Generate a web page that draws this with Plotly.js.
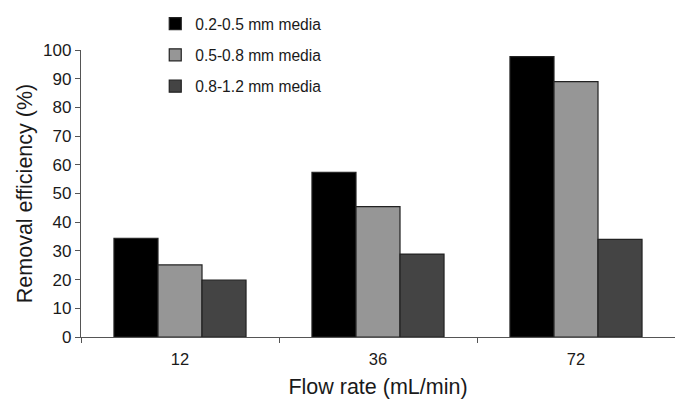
<!DOCTYPE html>
<html>
<head>
<meta charset="utf-8">
<script src="https://cdn.plot.ly/plotly-3.0.1.min.js"></script>
<style>html,body{margin:0;padding:0;background:#fff;}#chart{width:675px;height:399px;}</style>
</head>
<body>
<div id="chart"></div>
<script>
const flowRates = ['12', '36', '72'];
const seriesNames = ['0.2-0.5 mm media', '0.5-0.8 mm media', '0.8-1.2 mm media'];
const media02to05 = [34.4, 57.4, 97.7];
const media05to08 = [25.1, 45.4, 89.0];
const media08to12 = [19.8, 28.9, 34.0];
const yTicks = [0, 10, 20, 30, 40, 50, 60, 70, 80, 90, 100];

const colors = ['#000000', '#969696', '#444444'];
const values = [media02to05, media05to08, media08to12];

const traces = values.map((v, i) => ({
  type: 'bar',
  name: seriesNames[i],
  x: flowRates,
  y: v,
  legendgroup: 'g' + i,
  marker: {color: colors[i], line: {color: '#222222', width: 1.2}},
  hoverinfo: 'x+y'
}));

const layout = {
  width: 675, height: 399,
  margin: {l: 81, r: 0, t: 50, b: 62},
  paper_bgcolor: '#ffffff', plot_bgcolor: '#ffffff',
  font: {family: 'Liberation Sans, Arial, sans-serif', color: '#1a1a1a'},
  barmode: 'group', bargap: 0.333, bargroupgap: 0,
  showlegend: true,
  legend: {
    x: 0.125, y: 1.15, xanchor: 'left', yanchor: 'top',
    font: {size: 15.6, color: '#1a1a1a'},
    tracegroupgap: 8, bgcolor: 'rgba(0,0,0,0)', itemwidth: 30
  },
  xaxis: {
    type: 'category',
    tickson: 'boundaries',
    ticks: 'outside', ticklen: 5, tickcolor: '#555555', tickwidth: 1,
    showline: true, linecolor: '#555555', linewidth: 1.2,
    showgrid: false, zeroline: false,
    ticklabelstandoff: 7,
    tickfont: {size: 16.5, color: '#1a1a1a'},
    title: {text: 'Flow rate (mL/min)', font: {size: 21.5, color: '#1a1a1a'}, standoff: 13}
  },
  yaxis: {
    range: [0, 100], tickvals: yTicks, ticktext: yTicks.map(String),
    ticks: 'outside', ticklen: 5, tickcolor: '#555555', tickwidth: 1,
    showline: true, linecolor: '#555555', linewidth: 1.2,
    showgrid: false, zeroline: false,
    tickfont: {size: 17, color: '#1a1a1a'},
    title: {text: 'Removal efficiency (%)', font: {size: 21.5, color: '#1a1a1a'}, standoff: 4}
  }
};

Plotly.newPlot('chart', traces, layout, {displayModeBar: false, staticPlot: true});
</script>
</body>
</html>
